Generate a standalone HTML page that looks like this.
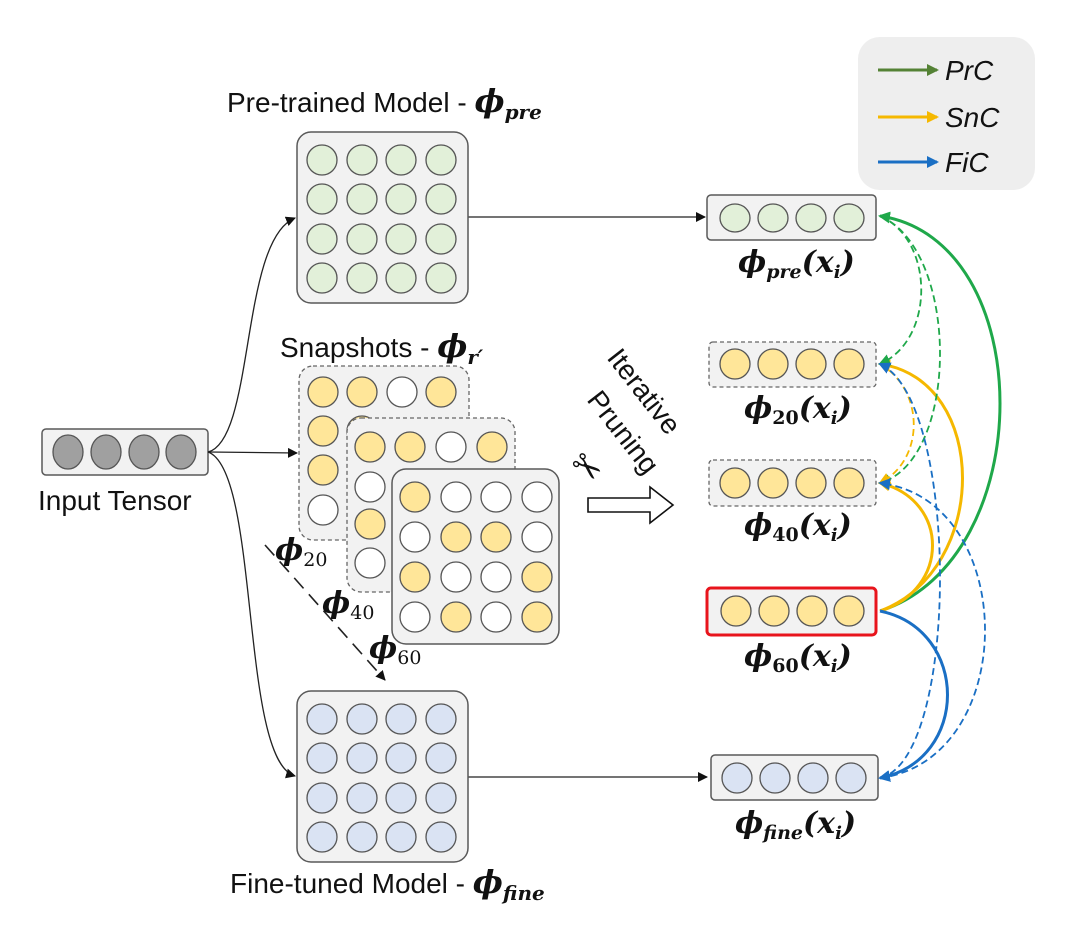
<!DOCTYPE html>
<html><head><meta charset="utf-8"><style>
html,body{margin:0;padding:0;background:#fff}
svg{display:block}
text{font-family:"Liberation Sans",sans-serif;fill:#111}
text.m,.m{font-family:"DejaVu Serif","Liberation Serif",serif;font-style:italic;font-weight:bold}
</style></head><body>
<svg width="1080" height="943" viewBox="0 0 1080 943" xmlns="http://www.w3.org/2000/svg">
<defs>
<marker id="ak" markerWidth="10" markerHeight="10" refX="9" refY="5" orient="auto" markerUnits="userSpaceOnUse"><path d="M0,0 L10,5 L0,10 z" fill="#111"/></marker>
<marker id="ag" markerWidth="12" markerHeight="12" refX="10" refY="6" orient="auto" markerUnits="userSpaceOnUse"><path d="M0,0 L12,6 L0,12 z" fill="#1fa84a"/></marker>
<marker id="ay" markerWidth="12" markerHeight="12" refX="10" refY="6" orient="auto" markerUnits="userSpaceOnUse"><path d="M0,0 L12,6 L0,12 z" fill="#f5b800"/></marker>
<marker id="ab" markerWidth="12" markerHeight="12" refX="10" refY="6" orient="auto" markerUnits="userSpaceOnUse"><path d="M0,0 L12,6 L0,12 z" fill="#1a6fc4"/></marker>
<marker id="lg" markerWidth="12" markerHeight="12" refX="10" refY="6" orient="auto" markerUnits="userSpaceOnUse"><path d="M0,0 L12,6 L0,12 z" fill="#548235"/></marker>
</defs>

<!-- legend -->
<rect x="858" y="37" width="177" height="153" rx="22" fill="#eeeeee"/>
<line x1="878" y1="70" x2="937" y2="70" stroke="#548235" stroke-width="3" marker-end="url(#lg)"/>
<text x="945" y="80" font-size="28" font-style="italic">PrC</text>
<line x1="878" y1="117" x2="937" y2="117" stroke="#f5b800" stroke-width="3" marker-end="url(#ay)"/>
<text x="945" y="127" font-size="28" font-style="italic">SnC</text>
<line x1="878" y1="162" x2="937" y2="162" stroke="#1a6fc4" stroke-width="3" marker-end="url(#ab)"/>
<text x="945" y="172" font-size="28" font-style="italic">FiC</text>

<!-- titles -->
<text x="227" y="112" font-size="28">Pre-trained Model - <tspan class="m" font-size="32">ϕ</tspan><tspan class="m" font-size="20" dy="7">pre</tspan></text>
<text x="280" y="357" font-size="28">Snapshots - <tspan class="m" font-size="32">ϕ</tspan><tspan class="m" font-size="20" dy="7">r′</tspan></text>
<text x="230" y="893" font-size="28">Fine-tuned Model - <tspan class="m" font-size="32">ϕ</tspan><tspan class="m" font-size="20" dy="7">fine</tspan></text>
<text x="38" y="510" font-size="28">Input Tensor</text>

<!-- input tensor -->
<rect x="42" y="429" width="166" height="46" rx="4" fill="#f2f2f2" stroke="#595959" stroke-width="1.5"/>
<g fill="#a0a0a0" stroke="#555" stroke-width="1.3">
<ellipse cx="68" cy="452" rx="15" ry="17"/><ellipse cx="106" cy="452" rx="15" ry="17"/><ellipse cx="144" cy="452" rx="15" ry="17"/><ellipse cx="181" cy="452" rx="15" ry="17"/>
</g>

<g fill="none" stroke="#222" stroke-width="1.3">
<path d="M208,452 C255,440 240,240 295,218" marker-end="url(#ak)"/>
<path d="M208,452 L297,453" marker-end="url(#ak)"/>
<path d="M208,452 C260,470 240,760 295,776" marker-end="url(#ak)"/>
<path d="M468,217 L705,217" marker-end="url(#ak)"/>
<path d="M468,777 L707,777" marker-end="url(#ak)"/>
<path d="M265,545 L385,680" stroke-dasharray="14,8" stroke-width="1.6" marker-end="url(#ak)"/>
</g>

<!-- pre-trained -->
<rect x="297" y="132" width="171" height="171" rx="14" fill="#f2f2f2" stroke="#595959" stroke-width="1.5"/>
<g fill="#e2f0d9" stroke="#555" stroke-width="1.3">
<circle cx="322" cy="160" r="15"/><circle cx="362" cy="160" r="15"/><circle cx="401" cy="160" r="15"/><circle cx="441" cy="160" r="15"/>
<circle cx="322" cy="199" r="15"/><circle cx="362" cy="199" r="15"/><circle cx="401" cy="199" r="15"/><circle cx="441" cy="199" r="15"/>
<circle cx="322" cy="239" r="15"/><circle cx="362" cy="239" r="15"/><circle cx="401" cy="239" r="15"/><circle cx="441" cy="239" r="15"/>
<circle cx="322" cy="278" r="15"/><circle cx="362" cy="278" r="15"/><circle cx="401" cy="278" r="15"/><circle cx="441" cy="278" r="15"/>
</g>

<rect x="299" y="366" width="170" height="174" rx="14" fill="#f2f2f2" stroke="#666" stroke-width="1.3" stroke-dasharray="4,3"/>
<g stroke="#555" stroke-width="1.3">
<circle cx="323" cy="392" r="15" fill="#ffe699"/><circle cx="362" cy="392" r="15" fill="#ffe699"/><circle cx="402" cy="392" r="15" fill="#fff"/><circle cx="441" cy="392" r="15" fill="#ffe699"/>
<circle cx="323" cy="431" r="15" fill="#ffe699"/><circle cx="362" cy="431" r="15" fill="#ffe699"/>
<circle cx="323" cy="470" r="15" fill="#ffe699"/>
<circle cx="323" cy="510" r="15" fill="#fff"/>
</g>
<rect x="347" y="418" width="168" height="174" rx="14" fill="#f2f2f2" stroke="#666" stroke-width="1.3" stroke-dasharray="4,3"/>
<g stroke="#555" stroke-width="1.3">
<circle cx="370" cy="447" r="15" fill="#ffe699"/><circle cx="410" cy="447" r="15" fill="#ffe699"/><circle cx="451" cy="447" r="15" fill="#fff"/><circle cx="492" cy="447" r="15" fill="#ffe699"/>
<circle cx="370" cy="487" r="15" fill="#fff"/>
<circle cx="370" cy="524" r="15" fill="#ffe699"/>
<circle cx="370" cy="563" r="15" fill="#fff"/>
</g>
<rect x="392" y="469" width="167" height="175" rx="14" fill="#f2f2f2" stroke="#595959" stroke-width="1.5"/>
<g stroke="#555" stroke-width="1.3">
<circle cx="415" cy="497" r="15" fill="#ffe699"/><circle cx="456" cy="497" r="15" fill="#fff"/><circle cx="496" cy="497" r="15" fill="#fff"/><circle cx="537" cy="497" r="15" fill="#fff"/>
<circle cx="415" cy="537" r="15" fill="#fff"/><circle cx="456" cy="537" r="15" fill="#ffe699"/><circle cx="496" cy="537" r="15" fill="#ffe699"/><circle cx="537" cy="537" r="15" fill="#fff"/>
<circle cx="415" cy="577" r="15" fill="#ffe699"/><circle cx="456" cy="577" r="15" fill="#fff"/><circle cx="496" cy="577" r="15" fill="#fff"/><circle cx="537" cy="577" r="15" fill="#ffe699"/>
<circle cx="415" cy="617" r="15" fill="#fff"/><circle cx="456" cy="617" r="15" fill="#ffe699"/><circle cx="496" cy="617" r="15" fill="#fff"/><circle cx="537" cy="617" r="15" fill="#ffe699"/>
</g>
<text x="275" y="560" class="m" font-size="30">ϕ<tspan font-size="19" font-style="normal" font-weight="normal" dy="6">20</tspan></text>
<text x="322" y="613" class="m" font-size="30">ϕ<tspan font-size="19" font-style="normal" font-weight="normal" dy="6">40</tspan></text>
<text x="369" y="658" class="m" font-size="30">ϕ<tspan font-size="19" font-style="normal" font-weight="normal" dy="6">60</tspan></text>

<rect x="297" y="691" width="171" height="171" rx="14" fill="#f2f2f2" stroke="#595959" stroke-width="1.5"/>
<g fill="#dae3f3" stroke="#555" stroke-width="1.3">
<circle cx="322" cy="719" r="15"/><circle cx="362" cy="719" r="15"/><circle cx="401" cy="719" r="15"/><circle cx="441" cy="719" r="15"/>
<circle cx="322" cy="758" r="15"/><circle cx="362" cy="758" r="15"/><circle cx="401" cy="758" r="15"/><circle cx="441" cy="758" r="15"/>
<circle cx="322" cy="798" r="15"/><circle cx="362" cy="798" r="15"/><circle cx="401" cy="798" r="15"/><circle cx="441" cy="798" r="15"/>
<circle cx="322" cy="837" r="15"/><circle cx="362" cy="837" r="15"/><circle cx="401" cy="837" r="15"/><circle cx="441" cy="837" r="15"/>
</g>

<text font-size="28" transform="translate(606,358) rotate(52)">Iterative</text>
<text font-size="28" transform="translate(586,400) rotate(52)">Pruning</text>
<text x="572" y="482" font-size="36" transform="rotate(40 590 468)">✂</text>
<path d="M588,498 L650,498 L650,487 L673,505 L650,523 L650,512 L588,512 z" fill="#fff" stroke="#111" stroke-width="1.6"/>

<rect x="707" y="195" width="169" height="45" rx="4" fill="#f2f2f2" stroke="#595959" stroke-width="1.5"/>
<g fill="#e2f0d9" stroke="#555" stroke-width="1.3"><ellipse cx="735" cy="218" rx="15" ry="14"/><ellipse cx="773" cy="218" rx="15" ry="14"/><ellipse cx="811" cy="218" rx="15" ry="14"/><ellipse cx="849" cy="218" rx="15" ry="14"/></g>
<rect x="709" y="342" width="167" height="45" rx="4" fill="#f2f2f2" stroke="#666" stroke-width="1.3" stroke-dasharray="4,3"/>
<g fill="#ffe699" stroke="#555" stroke-width="1.3"><ellipse cx="735" cy="364" rx="15" ry="15"/><ellipse cx="773" cy="364" rx="15" ry="15"/><ellipse cx="811" cy="364" rx="15" ry="15"/><ellipse cx="849" cy="364" rx="15" ry="15"/></g>
<rect x="709" y="460" width="167" height="46" rx="4" fill="#f2f2f2" stroke="#666" stroke-width="1.3" stroke-dasharray="4,3"/>
<g fill="#ffe699" stroke="#555" stroke-width="1.3"><ellipse cx="735" cy="483" rx="15" ry="15"/><ellipse cx="773" cy="483" rx="15" ry="15"/><ellipse cx="811" cy="483" rx="15" ry="15"/><ellipse cx="849" cy="483" rx="15" ry="15"/></g>
<rect x="707" y="588" width="169" height="47" rx="4" fill="#f2f2f2" stroke="#e8141c" stroke-width="3"/>
<g fill="#ffe699" stroke="#555" stroke-width="1.3"><ellipse cx="736" cy="611" rx="15" ry="15"/><ellipse cx="774" cy="611" rx="15" ry="15"/><ellipse cx="812" cy="611" rx="15" ry="15"/><ellipse cx="849" cy="611" rx="15" ry="15"/></g>
<rect x="711" y="755" width="167" height="45" rx="4" fill="#f2f2f2" stroke="#595959" stroke-width="1.5"/>
<g fill="#dae3f3" stroke="#555" stroke-width="1.3"><ellipse cx="737" cy="778" rx="15" ry="15"/><ellipse cx="775" cy="778" rx="15" ry="15"/><ellipse cx="813" cy="778" rx="15" ry="15"/><ellipse cx="851" cy="778" rx="15" ry="15"/></g>

<text class="m" x="738" y="272" font-size="30">ϕ<tspan font-size="19" dy="6">pre</tspan><tspan font-size="30" dy="-6">(x</tspan><tspan font-size="18" dy="6">i</tspan><tspan font-size="30" dy="-6">)</tspan></text>
<text class="m" x="744" y="418" font-size="30">ϕ<tspan font-size="19" font-style="normal" dy="6">20</tspan><tspan font-size="30" dy="-6">(x</tspan><tspan font-size="18" dy="6">i</tspan><tspan font-size="30" dy="-6">)</tspan></text>
<text class="m" x="744" y="535" font-size="30">ϕ<tspan font-size="19" font-style="normal" dy="6">40</tspan><tspan font-size="30" dy="-6">(x</tspan><tspan font-size="18" dy="6">i</tspan><tspan font-size="30" dy="-6">)</tspan></text>
<text class="m" x="744" y="666" font-size="30">ϕ<tspan font-size="19" font-style="normal" dy="6">60</tspan><tspan font-size="30" dy="-6">(x</tspan><tspan font-size="18" dy="6">i</tspan><tspan font-size="30" dy="-6">)</tspan></text>
<text class="m" x="735" y="833" font-size="30">ϕ<tspan font-size="19" dy="6">fine</tspan><tspan font-size="30" dy="-6">(x</tspan><tspan font-size="18" dy="6">i</tspan><tspan font-size="30" dy="-6">)</tspan></text>

<g fill="none" stroke-width="3">
<path d="M880,611 C1040,560 1040,240 880,216" stroke="#1fa84a" marker-end="url(#ag)"/>
<path d="M880,611 C990,570 990,380 880,364" stroke="#f5b800" marker-end="url(#ay)"/>
<path d="M880,611 C950,590 950,500 880,483" stroke="#f5b800" marker-end="url(#ay)"/>
<path d="M880,611 C970,630 970,760 880,778" stroke="#1a6fc4" marker-end="url(#ab)"/>
</g>
<g fill="none" stroke-width="1.8" stroke-dasharray="7,4">
<path d="M880,216 C935,240 935,340 880,364" stroke="#1fa84a" marker-end="url(#ag)"/>
<path d="M880,216 C960,250 960,460 880,483" stroke="#1fa84a" marker-end="url(#ag)"/>
<path d="M880,364 C925,390 925,460 880,483" stroke="#f5b800" marker-end="url(#ay)"/>
<path d="M880,778 C960,760 960,400 880,364" stroke="#1a6fc4" marker-end="url(#ab)"/>
<path d="M880,778 C1020,760 1020,500 880,483" stroke="#1a6fc4" marker-end="url(#ab)"/>
</g>
</svg>
</body></html>
